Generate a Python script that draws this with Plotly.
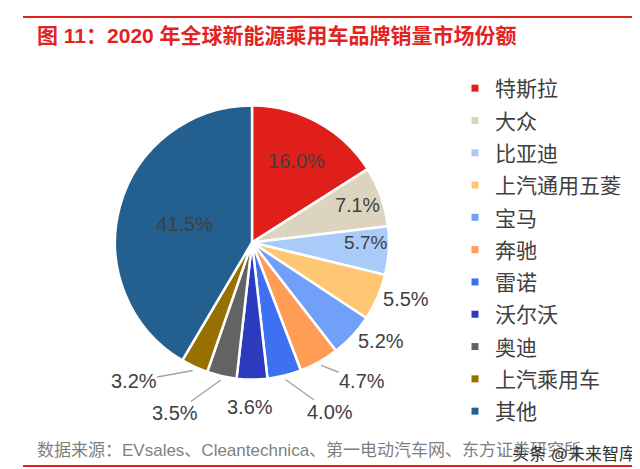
import math
import plotly.graph_objects as go

brands = ["特斯拉", "大众", "比亚迪", "上汽通用五菱", "宝马", "奔驰", "雷诺", "沃尔沃", "奥迪", "上汽乘用车", "其他"]
shares = [16.0, 7.1, 5.7, 5.5, 5.2, 4.7, 4.0, 3.6, 3.5, 3.2, 41.5]
colors = ["#E01F1A", "#DDD4BF", "#A8CBFA", "#FFC773", "#70A0F8", "#FF9D57",
          "#3E70F2", "#2A3BBD", "#636363", "#967000", "#235F8F"]
# how each value label is shown: by the pie itself, or as a callout with a leader line
label_pos = ["inside", "inside", "inside", "outside", "outside", "callout",
             "callout", "below", "callout", "callout", "inside"]
# callout text offsets (px) from the slice edge
callout_offset = {5: (41, 16), 6: (45, 32), 7: (-2, 23), 8: (-46, 33), 9: (-59, 11)}

title_text = "图 11：2020 年全球新能源乘用车品牌销量市场份额"
source_text = "数据来源：EVsales、Cleantechnica、第一电动汽车网、东方证券研究所"
watermark_text = "头条 @未来智库"

W, H = 640, 469
FONT = "Liberation Sans, Arial, Noto Sans CJK SC"
CJK = "Noto Sans CJK SC, Liberation Sans"
LABEL_COLOR = "#404040"
dom_x = [107 / W, 381 / W]
dom_y = [97 / H, 372 / H]

fig = go.Figure()
fig.add_trace(go.Pie(
    labels=brands, values=shares, sort=False, direction="clockwise", rotation=0,
    marker=dict(colors=colors, line=dict(color="white", width=2.5)),
    texttemplate="%{value:.1f}%", textinfo="text",
    textposition=[p if p in ("inside", "outside") else "none" for p in label_pos],
    insidetextorientation="horizontal",
    textfont=dict(family=FONT, size=20, color=LABEL_COLOR),
    domain=dict(x=dom_x, y=dom_y),
    showlegend=False, hoverinfo="label+value",
))

for b, c in zip(brands, colors):
    fig.add_trace(go.Scatter(
        x=[None], y=[None], mode="markers", name=b, legendgroup=b,
        marker=dict(symbol="square", size=7, color=c),
    ))

# callout labels anchored on the slice edge at each slice's mid angle
cx = (dom_x[0] + dom_x[1]) / 2
cy = (dom_y[0] + dom_y[1]) / 2
r_px = min((dom_x[1] - dom_x[0]) * W, (dom_y[1] - dom_y[0]) * H) / 2
total = sum(shares)
annotations = []
cum = 0.0
for i, v in enumerate(shares):
    mid = (cum + v / 2) / total * 2 * math.pi
    cum += v
    if label_pos[i] not in ("callout", "below"):
        continue
    rr = r_px + 4
    px = cx + rr * math.sin(mid) / W
    py = cy + rr * math.cos(mid) / H
    dx, dy = callout_offset[i]
    txt = f"{v:.1f}%"
    if label_pos[i] == "callout":
        annotations.append(dict(
            text=txt, xref="paper", yref="paper", x=px, y=py, ax=dx, ay=dy,
            showarrow=True, arrowhead=0, arrowwidth=1.5, arrowcolor="#A6A6A6",
            standoff=0, startstandoff=0, borderpad=0,
            font=dict(family=FONT, size=20, color=LABEL_COLOR)))
    else:
        annotations.append(dict(
            text=txt, xref="paper", yref="paper", x=px, y=py, xshift=dx, yshift=-dy,
            xanchor="center", yanchor="middle", showarrow=False,
            font=dict(family=FONT, size=20, color=LABEL_COLOR)))

annotations += [
    dict(text=title_text, xref="paper", yref="paper", x=27 / W, y=1 - 27 / H,
         xanchor="left", yanchor="middle", showarrow=False,
         font=dict(family=FONT, size=21, color="#E3231F", weight="bold")),
    dict(text=source_text, xref="paper", yref="paper", x=27 / W, y=1 - 442 / H,
         xanchor="left", yanchor="middle", showarrow=False,
         font=dict(family=FONT, size=17, color="#7F7F7F")),
    dict(text=watermark_text, xref="paper", yref="paper", x=630 / W, y=1 - 446 / H,
         xanchor="right", yanchor="middle", showarrow=False,
         font=dict(family=FONT, size=17, color="#333333")),
]

fig.update_layout(
    width=W, height=H, margin=dict(l=0, r=0, t=0, b=0),
    paper_bgcolor="white", plot_bgcolor="white",
    xaxis=dict(visible=False), yaxis=dict(visible=False),
    legend=dict(x=447 / W, y=1 - 60 / H, xanchor="left", yanchor="top",
                font=dict(family=CJK, size=21, color=LABEL_COLOR),
                tracegroupgap=2, itemsizing="trace", bgcolor="rgba(0,0,0,0)"),
    shapes=[
        dict(type="line", xref="paper", yref="paper", x0=15 / W, x1=637 / W,
             y0=1 - 9 / H, y1=1 - 9 / H, line=dict(color="#E3231F", width=2)),
        dict(type="line", xref="paper", yref="paper", x0=15 / W, x1=635 / W,
             y0=1 - 458 / H, y1=1 - 458 / H, line=dict(color="#E3231F", width=2)),
    ],
    annotations=annotations,
)

fig.write_html("out.html")
